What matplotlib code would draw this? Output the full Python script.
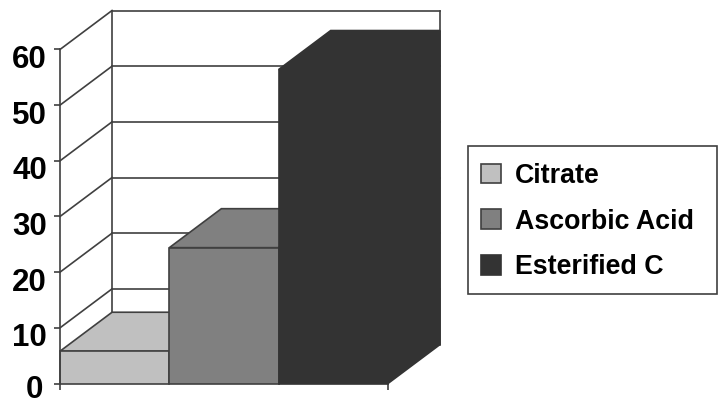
import matplotlib
matplotlib.use("Agg")
from matplotlib import pyplot as plt
from matplotlib.patches import Patch, Polygon, Rectangle
from matplotlib.transforms import ScaledTranslation

# values
categories = ["Citrate", "Ascorbic Acid", "Esterified C"]
values = [5.8, 24.4, 56.4]
colors = ["#C0C0C0", "#808080", "#333333"]
edges = ["#404040", "#404040", "#333333"]
yticks = [0, 10, 20, 30, 40, 50, 60]

# 3D look of the old chart: how far the back wall is shifted, in data units
depth_x = 0.476
depth_y = 7.0
line_col = "#404040"
lw = 1.2

plt.rcParams["font.family"] = ["Liberation Sans", "DejaVu Sans"]
plt.rcParams["font.weight"] = "bold"

W, H = 719, 400
fig = plt.figure(figsize=(W / 100, H / 100), dpi=100)
# axes runs from front zero corner to the back top right corner
left, right = 60, 440
bottom, top = 383.5, 10.5
ax = fig.add_axes([left / W, 1 - bottom / H, (right - left) / W, (bottom - top) / H])
ax.set_xlim(0, 3 + depth_x)
ax.set_ylim(0, 60 + depth_y)
ax.patch.set_visible(False)

for s in ["top", "right", "bottom"]:
    ax.spines[s].set_visible(False)
ax.spines["left"].set_bounds(0, 60)
ax.spines["left"].set_color(line_col)
ax.spines["left"].set_linewidth(lw)

# back wall and gridlines
for v in yticks:
    ax.plot([0, depth_x], [v, v + depth_y], color=line_col, lw=lw, zorder=1, clip_on=False)
    if v > 0:
        ax.plot([depth_x, 3 + depth_x], [v + depth_y, v + depth_y], color=line_col, lw=lw, zorder=1, clip_on=False)
ax.plot([depth_x, depth_x], [depth_y, 60 + depth_y], color=line_col, lw=lw, zorder=1, clip_on=False)
ax.plot([3 + depth_x, 3 + depth_x], [depth_y, 60 + depth_y], color=line_col, lw=lw, zorder=1, clip_on=False)

# bars, front face plus top and side faces
for i, v in enumerate(values):
    ax.add_patch(Polygon([(i, v), (i + depth_x, v + depth_y), (i + 1 + depth_x, v + depth_y), (i + 1, v)],
                         facecolor=colors[i], edgecolor=edges[i], lw=lw, zorder=2 + i, clip_on=False))
    ax.add_patch(Polygon([(i + 1, 0), (i + 1 + depth_x, depth_y), (i + 1 + depth_x, v + depth_y), (i + 1, v)],
                         facecolor=colors[i], edgecolor=edges[i], lw=lw, zorder=2 + i, clip_on=False))
    ax.bar(i, v, width=1, align="edge", color=colors[i], edgecolor=edges[i], lw=lw, zorder=2 + i, clip_on=False)

ax.set_yticks(yticks)
ax.set_xticks([0, 3])
ax.set_xticklabels(["", ""])
ax.tick_params(axis="y", length=4, width=lw, color=line_col, labelsize=22.5, pad=5.5)
ax.tick_params(axis="x", length=4, width=lw, color=line_col)
ax.xaxis.set_ticks_position("bottom")
# labels in the original sit a bit below their ticks, the 0 less so and further left
for lab, v in zip(ax.get_yticklabels(), yticks):
    dx, dy = (-4, -3) if v == 0 else (0, -7)
    lab.set_transform(lab.get_transform() + ScaledTranslation(dx / 100, dy / 100, fig.dpi_scale_trans))

# legend frame on its own so the padding can differ per side
fig.add_artist(Rectangle((468 / W, 1 - 294 / H), 249 / W, 148 / H, transform=fig.transFigure,
                         facecolor="white", edgecolor=line_col, lw=lw))
handles = [Patch(facecolor=c, edgecolor=e, lw=lw) for c, e in zip(colors, edges)]
leg = fig.legend(handles, categories, loc="upper left", bbox_to_anchor=(481 / W, 1 - 163 / H),
                 bbox_transform=fig.transFigure, fontsize=19.3, frameon=False, borderaxespad=0,
                 borderpad=0, labelspacing=0.73, handlelength=0.75, handleheight=0.75, handletextpad=0.5)

fig.savefig("out.png", dpi=100)
